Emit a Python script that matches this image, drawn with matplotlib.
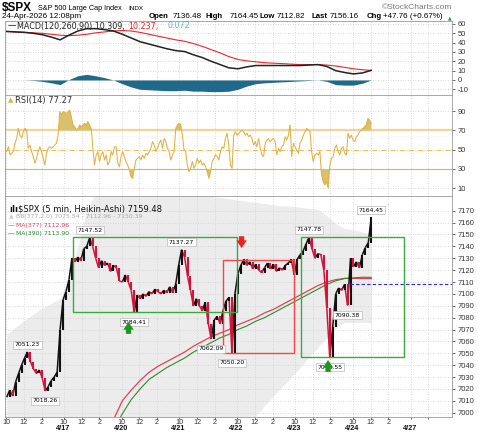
import numpy as np
import matplotlib.pyplot as plt
import matplotlib.transforms as mtransforms
from matplotlib.patches import Rectangle
from matplotlib.collections import LineCollection

W, H = 480, 432

# time axis: bar 0 = 9:30 on 4/16, 78 five-minute bars per session
BARS_PER_DAY = 78
days = ["4/16", "4/17", "4/20", "4/21", "4/22", "4/23", "4/24", "4/27"]
hour_labels = ["10", "12", "2"]
hour_bars = [6, 30, 54]

# Heikin-Ashi closes, one every 4 bars (bar 7 .. bar 499)
ha_close = [
    7013, 7019, 7014, 7026, 7033, 7040, 7046, 7051.23, 7043, 7037,
    7033, 7036, 7029, 7018.26, 7022, 7027, 7030, 7034, 7070, 7095,
    7102, 7112, 7130, 7127, 7131, 7128, 7138, 7140, 7147.52, 7140,
    7130, 7122, 7128, 7124, 7126, 7119, 7124, 7122, 7111, 7110,
    7116, 7110, 7103, 7084.41, 7099, 7096, 7100, 7098, 7102, 7100,
    7104, 7102, 7100, 7103, 7101, 7106, 7101, 7108, 7124, 7137.27,
    7131, 7115, 7103, 7090, 7096, 7090, 7086, 7093, 7075, 7062.09,
    7078, 7081, 7075, 7086, 7094, 7097, 7050.20, 7100, 7117, 7124,
    7129, 7124, 7127, 7121, 7125, 7120, 7118, 7122, 7126, 7121,
    7125, 7119, 7122, 7120, 7124, 7126, 7129, 7116, 7129, 7133,
    7136, 7142, 7147.78, 7138, 7130, 7134, 7133, 7120, 7088, 7046.55,
    7072, 7100, 7105, 7103, 7108, 7090.38, 7130, 7123, 7127, 7122,
    7133, 7139, 7143, 7164.45,
]
peaks = [7, 28, 59, 102, 123]
troughs = [13, 43, 69, 76, 109, 115]

# indicators, one sample every 12 bars (bar 7 .. bar 499)
bb_upper = [
    7066, 7072, 7078, 7083, 7088, 7092, 7096, 7112, 7140, 7170,
    7185, 7190, 7192, 7193, 7193, 7192, 7190, 7188, 7187, 7186,
    7185, 7184, 7183, 7182, 7181, 7180, 7179, 7178, 7177, 7176,
    7175, 7174, 7174, 7173, 7172, 7171, 7166, 7159, 7155, 7154,
    7152, 7150.39,
]
bb_lower = [
    6930, 6925, 6920, 6915, 6912, 6910, 6910, 6912, 6915, 6918,
    6922, 6926, 6930, 6935, 6940, 6945, 6950, 6955, 6960, 6964,
    6968, 6972, 6976, 6980, 6984, 6988, 6991, 6994, 6997, 7006,
    7014, 7022, 7030, 7038, 7047, 7055, 7063, 7071, 7076, 7076,
    7076, 7075.54,
]
nan = float("nan")
ma377 = [nan] * 12 + [
    6994, 7010, 7019, 7027, 7034, 7039, 7043, 7047, 7051, 7056,
    7060, 7064, 7067, 7070, 7074, 7077, 7080, 7084, 7087, 7091,
    7095, 7099, 7103, 7107, 7110, 7112, 7113, 7113, 7113, 7112.96,
]
ma390 = [nan] * 12 + [
    6986, 6999, 7011, 7020, 7028, 7033, 7038, 7042, 7046, 7051,
    7055, 7059, 7063, 7066, 7070, 7073, 7077, 7080, 7084, 7088,
    7092, 7096, 7100, 7104, 7108, 7111, 7113, 7113.5, 7114, 7113.90,
]
macd_line = [
    52, 51.5, 51, 50, 48.5, 46, 43, 48, 52.5, 55,
    55, 54, 52.5, 49, 45, 41, 38.5, 36, 33.5, 31.5,
    30.5, 27, 24, 20, 16.5, 13, 12, 14, 15.5, 15.5,
    15.5, 15.5, 15.5, 15.5, 16, 16.5, 14.5, 10, 8, 6.5,
    7.5, 10.309,
]
macd_signal = [
    52, 51.5, 51, 50.5, 50, 49, 48, 47.5, 48, 49,
    50.5, 51.5, 52.5, 53, 52.5, 51, 49, 47, 45, 43,
    41.5, 39, 36, 32.5, 29, 25, 22, 20.5, 19.5, 18.5,
    18, 17.5, 17, 16.5, 16.5, 16.5, 16, 15, 13.5, 12,
    11, 10.237,
]

# RSI(14), evenly sampled from bar 7 to bar 499
rsi = [
    48, 53, 44.5, 46, 48, 56.6, 61.7, 72, 65, 62,
    68.6, 72, 70.3, 51.4, 54.8, 48, 42.8, 36, 41, 48,
    53, 48, 41, 34, 46, 51.4, 53, 51.4, 53, 54.8,
    56.6, 65, 89.3, 86, 89.3, 88.6, 87.6, 89.3, 91, 84,
    75.5, 73.8, 70.3, 72, 75.5, 73.8, 75.5, 77.2, 75.5, 79,
    75.5, 72, 51.4, 34, 44.5, 48, 37.6, 44.5, 48, 39.3,
    44.5, 34, 37.6, 48, 44.5, 53, 53, 36, 32.4, 42.8,
    48, 42.8, 37.6, 34, 29, 22, 20.3, 30.7, 39.3, 41,
    42.8, 39.3, 44.5, 41, 46.2, 44.5, 48, 51.4, 58.3, 54.8,
    48, 51.4, 56.6, 60, 51.4, 61.7, 58.3, 51.4, 48, 39.3,
    44.5, 48, 72, 75.5, 77.2, 76.2, 65, 49.7, 48, 34,
    27.2, 30.7, 37.6, 30.7, 34, 41, 36, 39.3, 34, 36,
    32.4, 27.2, 20.3, 27.2, 37.6, 41, 44.5, 42.8, 39.3, 48,
    53, 51.4, 61.7, 67, 54.8, 34, 30.7, 65, 68.6, 65,
    67, 68.6, 70.3, 68.6, 65, 67, 63.4, 65, 61.7, 54.8,
    58.3, 53, 61.7, 51.4, 44.5, 42.8, 56.6, 60, 61.7, 58.3,
    60, 61.7, 58.3, 44.5, 51.4, 48, 53, 54.8, 63.4, 60,
    65, 75.5, 42.8, 56.6, 53, 49.7, 46.2, 56.6, 60, 65,
    68.6, 72, 70.3, 68.6, 48, 37.6, 44.5, 46.2, 44.5, 48,
    23.8, 16.9, 13.4, 16.9, 10, 34, 41, 42.8, 51.4, 54.8,
    48, 44.5, 51.4, 53, 46.2, 44.5, 67, 61.7, 65, 60,
    58.3, 63.4, 65, 68.6, 70.3, 72, 73.8, 75.5, 82.4, 80.7,
    77.27,
]

quote_names = ["Open", "High", "Low", "Last", "Chg"]
quote_values = ["7136.48", "7164.45", "7112.82", "7156.16", "+47.76 (+0.67%)"]

# drawn annotations (bar, bar, low, high)
green_boxes = [(96.4, 317.7, 7084.41, 7147.52), (403.7, 543.5, 7046.55, 7147.78)]
red_boxes = [(298.9, 394.7, 7050.20, 7128.5)]
hline_price, hline_from = 7108, 470.4

# ---------------------------------------------------------------
ha_close = np.array(ha_close)
xc = 7 + 4 * np.arange(len(ha_close))
xi = 7 + 12 * np.arange(len(bb_upper))
xr = np.linspace(7, 499, len(rsi))
rsi = np.array(rsi)
macd_line = np.array(macd_line)
macd_signal = np.array(macd_signal)
hist = macd_line - macd_signal

XMIN, XMAX = 4.65, 608
TICK_FONT = "Liberation Sans"
GRID = dict(color="#cdcdcd", linestyle=(0, (1, 2)), linewidth=0.6)
UP, DOWN = "#111111", "#d2143c"

fig = plt.figure(figsize=(W / 100, H / 100), dpi=100)


def panel(top, bottom):
    ax = fig.add_axes([5 / W, 1 - bottom / H, 447 / W, (bottom - top) / H])
    ax.set_xlim(XMIN, XMAX)
    for s in ax.spines.values():
        s.set_color("#9a9a9a")
        s.set_linewidth(0.6)
    ax.yaxis.tick_right()
    ax.tick_params(axis="y", length=2, pad=2, labelsize=5.4, colors="#333333",
                   width=0.5)
    ax.set_axisbelow(True)
    return ax


xticks, xlabels = [], []
for d in range(len(days)):
    for hb, hl in zip(hour_bars, hour_labels):
        b = d * BARS_PER_DAY + hb
        if b < XMAX - 10:
            xticks.append(b)
            xlabels.append(hl if d < len(days) - 1 else "")

ax_m = panel(21, 95)
ax_r = panel(95, 196)
ax_p = panel(196, 416.5)

for ax in (ax_m, ax_r, ax_p):
    ax.set_xticks(xticks)
    ax.xaxis.grid(True, **GRID)
ax_m.tick_params(axis="x", length=0, labelbottom=False)
ax_r.tick_params(axis="x", length=0, labelbottom=False)

# ---- MACD
ax_m.set_ylim(-16.1, 63.2)
ax_m.set_yticks(range(-10, 61, 10))
ax_m.set_yticklabels([str(v) for v in range(-10, 61, 10)], family=TICK_FONT)
ax_m.yaxis.grid(True, **GRID)
ax_m.fill_between(xi, 0, hist, color="#1f6a8a", lw=0, zorder=2)
ax_m.plot(xi, macd_signal, color="#e8262c", lw=0.8, zorder=3)
ax_m.plot(xi, macd_line, color="#222222", lw=1.1, zorder=4)

# ---- RSI
ax_r.set_ylim(2.0, 106.6)
ax_r.set_yticks([10, 30, 50, 70, 90])
ax_r.set_yticklabels(["10", "30", "50", "70", "90"], family=TICK_FONT)
ax_r.axhline(90, **GRID)
ax_r.axhline(10, **GRID)
ax_r.axhline(70, color="#f0d49a", lw=1.6, zorder=1)
ax_r.axhline(30, color="#e6b43c", lw=0.8, zorder=1)
ax_r.axhline(50, color="#e6b43c", lw=0.6, ls=(0, (6, 2, 1, 2)), zorder=1)
ax_r.fill_between(xr, 70, rsi, where=rsi > 70, interpolate=True,
                  color="#d9c06c", lw=0, zorder=2)
ax_r.fill_between(xr, 30, rsi, where=rsi < 30, interpolate=True,
                  color="#d9c06c", lw=0, zorder=2)
ax_r.plot(xr, rsi, color="#e0b040", lw=0.75, zorder=3)

# ---- price
ax_p.set_ylim(6996.8, 7182.4)
pt = list(range(7000, 7171, 10))
ax_p.set_yticks(pt)
ax_p.set_yticklabels([str(v) for v in pt], family=TICK_FONT)
ax_p.yaxis.grid(True, **GRID)
ax_p.fill_between(xi, bb_lower, bb_upper, color="#ececec", lw=0, zorder=0.1)
ax_p.plot(xi, ma377, color="#e4405c", lw=0.9, zorder=2)
ax_p.plot(xi, ma390, color="#2e8b2e", lw=0.8, zorder=2)

# Heikin-Ashi candles: black when rising, red when falling
rising = np.diff(ha_close) >= 0
segs = np.stack([np.c_[xc[:-1], ha_close[:-1]], np.c_[xc[1:], ha_close[1:]]], axis=1)
ax_p.add_collection(LineCollection(segs, colors=np.where(rising, UP, DOWN),
                                   linewidths=1.1, zorder=3))
ax_p.vlines(xc[1:], ha_close[:-1], ha_close[1:], colors=np.where(rising, UP, DOWN),
            lw=1.5, zorder=3)

for x0, x1, lo, hi in green_boxes:
    ax_p.add_patch(Rectangle((x0, lo), x1 - x0, hi - lo, fill=False,
                             ec="#3aaa3a", lw=1.0, zorder=4))
for x0, x1, lo, hi in red_boxes:
    ax_p.add_patch(Rectangle((x0, lo), x1 - x0, hi - lo, fill=False,
                             ec="#ee4848", lw=1.0, zorder=4))
ax_p.plot([hline_from, XMAX], [hline_price, hline_price], color="#2a2ae8",
          lw=0.8, ls=(0, (3, 2)), zorder=4)

box = dict(boxstyle="square,pad=0.25", fc="white", ec="#bbbbbb", lw=0.5)
for k in peaks:
    ax_p.annotate(f"{ha_close[k]:.2f}", (xc[k], ha_close[k]), xytext=(0, 5.2),
                  textcoords="offset points", ha="center", va="center",
                  fontsize=4.4, bbox=box, zorder=6)
for k in troughs:
    ax_p.annotate(f"{ha_close[k]:.2f}", (xc[k], ha_close[k]), xytext=(0, -7),
                  textcoords="offset points", ha="center", va="center",
                  fontsize=4.4, bbox=box, zorder=6)


def block_arrow(x, tip, dy, color):
    ax_p.annotate("", xy=(x, tip), xytext=(0, dy), textcoords="offset points",
                  arrowprops=dict(arrowstyle="simple,head_length=0.55,head_width=0.75,tail_width=0.38",
                                  fc=color, ec="none", shrinkA=0, shrinkB=0),
                  zorder=7)


block_arrow(171.4, 7076.3, -8.5, "#1c961c")
block_arrow(440.7, 7044.3, -8.5, "#1c961c")
block_arrow(324.0, 7138.6, 8.5, "#ee2222")

# x tick labels and dates
ax_p.set_xticklabels(xlabels, family=TICK_FONT)
ax_p.tick_params(axis="x", length=1.5, pad=0.4, labelsize=5.2, colors="#333333",
                 width=0.5)
trans = mtransforms.blended_transform_factory(ax_p.transData, ax_p.transAxes)
for d in range(1, len(days)):
    ax_p.text(d * BARS_PER_DAY + 5, -0.053, days[d], transform=trans,
              ha="center", va="center", fontsize=5.3, weight="bold",
              family=TICK_FONT, color="#111111")


# ---- header and legends
def ftext(px, py, s, **kw):
    kw.setdefault("va", "center")
    fig.text(px / W, 1 - py / H, s, **kw)


ftext(2, 8, "$SPX", fontsize=8.5, weight="bold", family=TICK_FONT)
ftext(38, 8.5, "S&P 500 Large Cap Index", fontsize=5.2, family=TICK_FONT)
ftext(128, 8.5, "INDX", fontsize=4.6, family=TICK_FONT)
ftext(452, 7.5, "©StockCharts.com", fontsize=6, family=TICK_FONT,
      color="#777777", ha="right")
ftext(2, 17, "24-Apr-2026 12:08pm", fontsize=5.9, family=TICK_FONT)
qx = [(149, 173), (206, 230), (260, 277), (311, 330), (367, 383)]
for (nx, vx), name, val in zip(qx, quote_names, quote_values):
    ftext(nx, 17, name, fontsize=5.6, weight="bold", family=TICK_FONT)
    ftext(vx, 17, val, fontsize=5.8, family=TICK_FONT)
ftext(450, 17.5, "▲", fontsize=3.5, color="#2a9a2a", ha="center")

ftext(8, 26, "—", fontsize=6, color="#222222")
ftext(17, 26, "MACD(120,260,90) 10.309,", fontsize=5.8, color="#222222")
ftext(128, 26, "10.237,", fontsize=5.8, color="#e8262c")
ftext(168, 26, "0.072", fontsize=5.8, color="#5ab4e0")

ftext(8, 100.5, "▲", fontsize=5, color="#d9b450")
ftext(15, 100.5, "RSI(14) 77.27", fontsize=6, color="#333333")

ftext(9, 209, "ılı", fontsize=6, weight="bold", color="#111111")
ftext(18, 209, "$SPX (5 min, Heikin-Ashi) 7159.48", fontsize=6, color="#111111")
ftext(9, 217, "▲", fontsize=4.2, color="#cccccc")
ftext(16, 217, "BB(377,2.0) 7075.54 - 7112.96 - 7150.39", fontsize=4.4,
      color="#aaaaaa")
ftext(8, 225, "—", fontsize=5, color="#e4405c")
ftext(16, 225, "MA(377) 7112.96", fontsize=4.4, color="#e4405c")
ftext(8, 233, "—", fontsize=5, color="#2e8b2e")
ftext(16, 233, "MA(390) 7113.90", fontsize=4.4, color="#2e8b2e")

fig.savefig("out.png", dpi=100)
